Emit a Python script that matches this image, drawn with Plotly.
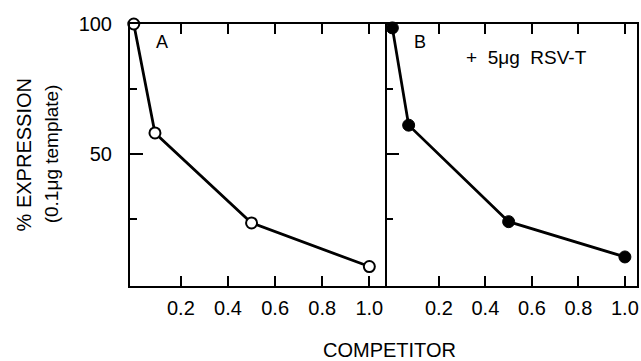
import plotly.graph_objects as go

# Data
competitor_a = [0.0, 0.09, 0.5, 1.0]
expression_a = [100, 58, 23.3, 6.5]
competitor_b = [0.0, 0.07, 0.5, 1.0]
expression_b = [98.5, 61, 23.8, 10.2]

x_tickvals = [0.2, 0.4, 0.6, 0.8, 1.0]
x_ticktext = ["0.2", "0.4", "0.6", "0.8", "1.0"]
y_major = [50, 100]
y_major_text = ["50", "100"]
y_minor = [25, 75]

FONT = "Liberation Sans, Arial, Helvetica, sans-serif"
W, H = 641, 361
ML, MR, MT, MB = 130, 2, 24, 75
PW = W - ML - MR
PH = H - MT - MB


def px(x):
    return (x - ML) / PW


def py(y):
    return (H - MB - y) / PH


fig = go.Figure()
fig.add_trace(go.Scatter(
    x=competitor_a, y=expression_a, mode="lines+markers",
    line=dict(color="black", width=2.8),
    marker=dict(symbol="circle", size=11, color="white",
                line=dict(color="black", width=2)),
    xaxis="x", yaxis="y", showlegend=False, cliponaxis=False))
fig.add_trace(go.Scatter(
    x=competitor_b, y=expression_b, mode="lines+markers",
    line=dict(color="black", width=2.8),
    marker=dict(symbol="circle", size=12, color="black",
                line=dict(color="black", width=1)),
    xaxis="x2", yaxis="y2", showlegend=False, cliponaxis=False))

split = (388.5 - ML) / PW

xcommon = dict(
    tickmode="array", tickvals=x_tickvals, ticktext=x_ticktext,
    ticks="inside", ticklen=10, tickwidth=2, tickcolor="black",
    showline=True, linecolor="black", linewidth=2, mirror="ticks",
    showgrid=False, zeroline=False, ticklabelstandoff=3,
    tickfont=dict(family=FONT, size=20, color="black"),
)
fig.update_layout(
    xaxis=dict(domain=[0, split], range=[-0.016, 1.077], anchor="y", **xcommon),
    xaxis2=dict(domain=[split, 1], range=[-0.021, 1.052], anchor="y2", **xcommon),
    yaxis=dict(domain=[0, 1], range=[-1, 100], anchor="x",
               tickmode="array", tickvals=y_major, ticktext=y_major_text,
               ticks="inside", ticklen=13, tickwidth=2, tickcolor="black",
               minor=dict(tickmode="array", tickvals=y_minor, ticks="inside",
                          ticklen=7, tickwidth=2, tickcolor="black"),
               showline=True, linecolor="black", linewidth=2, mirror=False,
               showgrid=False, zeroline=False, ticklabelstandoff=12,
               tickfont=dict(family=FONT, size=20, color="black")),
    yaxis2=dict(domain=[0, 1], range=[-1, 100], anchor="x2",
                tickmode="array", tickvals=y_major, ticktext=["", ""],
                ticks="inside", ticklen=12, tickwidth=2, tickcolor="black",
                minor=dict(tickmode="array", tickvals=y_minor, ticks="inside",
                           ticklen=6, tickwidth=2, tickcolor="black"),
                showline=True, linecolor="black", linewidth=2, mirror=True,
                showgrid=False, zeroline=False, showticklabels=False),
    width=W, height=H,
    margin=dict(l=ML, r=MR, t=MT, b=MB),
    paper_bgcolor="white", plot_bgcolor="white",
    font=dict(family=FONT, color="black"),
)

ann = [
    dict(text="% EXPRESSION", x=px(24), y=py(155), textangle=-90, size=20),
    dict(text="(0.1μg template)", x=px(51), y=py(154), textangle=-90, size=19),
    dict(text="COMPETITOR", x=px(391), y=py(350), textangle=0, size=20),
    dict(text="A", x=px(162), y=py(42), textangle=0, size=18),
    dict(text="B", x=px(421.5), y=py(41.5), textangle=0, size=18),
    dict(text="+  5μg  RSV-T", x=px(528), y=py(57), textangle=0, size=19),
]
for a in ann:
    fig.add_annotation(text=a["text"], x=a["x"], y=a["y"], xref="paper", yref="paper",
                       xanchor="center", yanchor="middle", showarrow=False,
                       textangle=a["textangle"],
                       font=dict(family=FONT, size=a["size"], color="black"))

fig.write_html("out.html", config={"displayModeBar": False},
               post_script="document.body.style.margin='0';document.body.style.padding='0';")
